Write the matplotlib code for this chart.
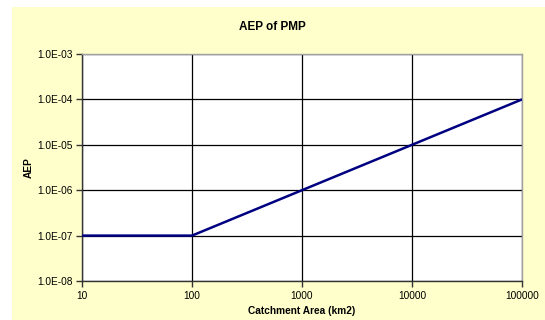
import matplotlib
matplotlib.use("Agg")
import matplotlib.pyplot as plt
from matplotlib.patches import Rectangle

area_km2 = [10, 100, 1000, 10000, 100000]
aep = [1e-7, 1e-7, 1e-6, 1e-5, 1e-4]
x_ticks = [10, 100, 1000, 10000, 100000]
x_tick_labels = ["10", "100", "1000", "10000", "100000"]
y_ticks = [1e-8, 1e-7, 1e-6, 1e-5, 1e-4, 1e-3]
y_tick_labels = ["1.0E-08", "1.0E-07", "1.0E-06", "1.0E-05", "1.0E-04", "1.0E-03"]

plt.rcParams['font.family'] = ['Liberation Sans', 'DejaVu Sans']

W, H = 545, 320
fig = plt.figure(figsize=(W / 100, H / 100), dpi=100)
fig.patch.set_facecolor("white")
fig.patches.append(Rectangle((12 / W, 0), 1 - 12 / W, 1 - 7 / H,
                             transform=fig.transFigure, facecolor="#FFFFCC",
                             edgecolor="none", zorder=-10))

left, right, top, bottom = 82, 522, 54, 281
ax = fig.add_axes([left / W, 1 - bottom / H, (right - left) / W, (bottom - top) / H])
ax.set_facecolor("white")
ax.set_xscale("log")
ax.set_yscale("log")
ax.set_xlim(10, 100000)
ax.set_ylim(1e-8, 1e-3)

ax.plot(area_km2, aep, color="#000080", linewidth=1.8, zorder=3, solid_capstyle="butt")

ax.set_xticks(x_ticks)
ax.set_xticklabels(x_tick_labels)
ax.set_yticks(y_ticks)
ax.set_yticklabels(y_tick_labels)
ax.minorticks_off()
ax.tick_params(axis="both", which="major", labelsize=7.3, length=4, width=1,
               color="#333333", direction="out", pad=3)
ax.grid(True, which="major", color="black", linewidth=0.9)

for s in ["left", "bottom"]:
    ax.spines[s].set_color("#333333")
    ax.spines[s].set_linewidth(1.0)
for s in ["top", "right"]:
    ax.spines[s].set_color("#A0A0A0")
    ax.spines[s].set_linewidth(1.0)

ax.set_xlabel("Catchment Area (km2)", fontsize=7.3, fontweight="bold", labelpad=4)
ax.set_ylabel("AEP", fontsize=7.3, fontweight="bold", labelpad=2)
fig.text(0.5, 1 - 27 / H, "AEP of PMP", ha="center", va="center",
         fontsize=8.5, fontweight="bold")

fig.savefig("out.png", dpi=100, facecolor=fig.get_facecolor())
